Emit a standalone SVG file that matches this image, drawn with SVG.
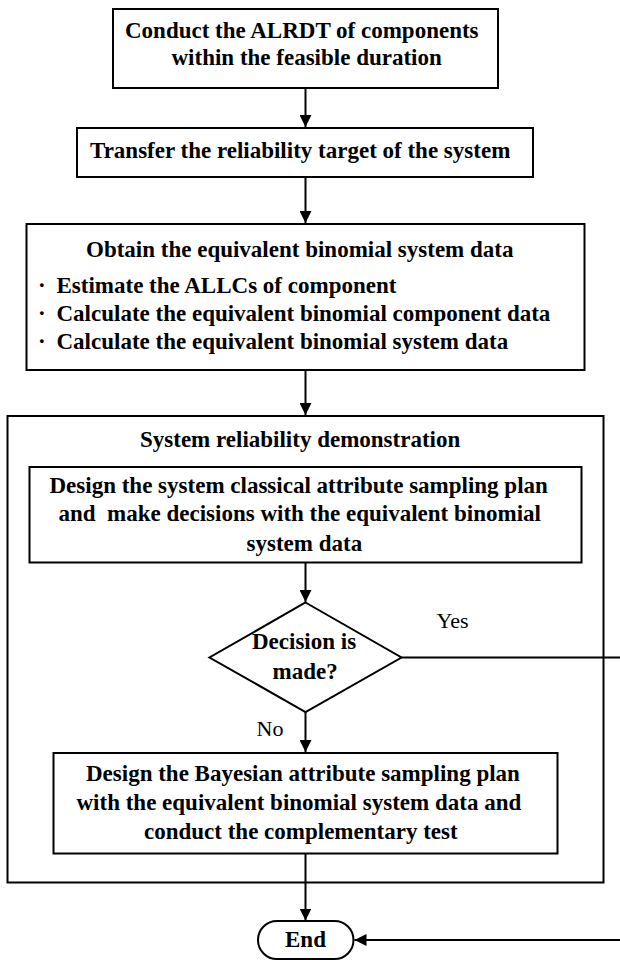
<svg xmlns="http://www.w3.org/2000/svg" width="620" height="960" viewBox="0 0 620 960">
  <defs>
    <style>
      .box { fill: #fff; stroke: #000; stroke-width: 2; }
      .frame { fill: none; stroke: #000; stroke-width: 2; }
      .t { font-family: "Liberation Serif", "Times New Roman", serif; font-size: 23px; font-weight: bold; fill: #000; }
      .lbl { font-family: "Liberation Serif", "Times New Roman", serif; font-size: 22px; fill: #000; }
      .edge { fill: none; stroke: #000; stroke-width: 2; }
    </style>
    <marker id="arrow" markerUnits="userSpaceOnUse" markerWidth="12" markerHeight="12" viewBox="0 0 12 12" refX="12" refY="6" orient="auto">
      <path d="M0,0 L12,6 L0,12 Z" fill="#000"/>
    </marker>
  </defs>

  <rect width="620" height="960" fill="#fff"/>

  <!-- outer container -->
  <g id="demo">
    <rect class="frame" x="7.5" y="416" width="596" height="466.5"/>
    <text class="t" x="140" y="447">System reliability demonstration</text>
  </g>

  <g id="alrdt">
    <rect class="box" x="113" y="9" width="385" height="79"/>
    <text class="t" x="125" y="37.5">Conduct the ALRDT of components</text>
    <text class="t" x="171.5" y="65">within the feasible duration</text>
  </g>

  <g id="transfer">
    <rect class="box" x="77" y="128" width="456" height="49"/>
    <text class="t" x="90" y="158">Transfer the reliability target of the system</text>
  </g>

  <g id="obtain">
    <rect class="box" x="26.5" y="224" width="558" height="146"/>
    <text class="t" x="86" y="257">Obtain the equivalent binomial system data</text>
    <text class="t" y="292.5"><tspan x="38">·</tspan><tspan x="56.5">Estimate the ALLCs of component</tspan></text>
    <text class="t" y="320.5"><tspan x="38">·</tspan><tspan x="56.5">Calculate the equivalent binomial component data</tspan></text>
    <text class="t" y="348.5"><tspan x="38">·</tspan><tspan x="56.5">Calculate the equivalent binomial system data</tspan></text>
  </g>

  <g id="classical">
    <rect class="box" x="29.5" y="467" width="552" height="95.5"/>
    <text class="t" x="49.5" y="492.5">Design the system classical attribute sampling plan</text>
    <text class="t" x="58.5" y="520.5" xml:space="preserve">and  make decisions with the equivalent binomial</text>
    <text class="t" x="246.5" y="550.5">system data</text>
  </g>

  <g id="decision">
    <polygon class="box" points="305.5,602.5 401.5,657.5 305.5,712 209.5,657.5"/>
    <text class="t" x="252" y="649">Decision is</text>
    <text class="t" x="272.5" y="678.5">made?</text>
  </g>

  <g id="bayesian">
    <rect class="box" x="53.5" y="753" width="504" height="100.5"/>
    <text class="t" x="86" y="781">Design the Bayesian attribute sampling plan</text>
    <text class="t" x="76.5" y="809.5">with the equivalent binomial system data and</text>
    <text class="t" x="144" y="838.5">conduct the complementary test</text>
  </g>

  <g id="end">
    <rect class="box" x="258" y="921" width="95.5" height="38" rx="19" ry="19"/>
    <text class="t" x="305.5" y="947" text-anchor="middle">End</text>
  </g>

  <g id="connectors">
    <line class="edge" x1="305.5" y1="88" x2="305.5" y2="127" marker-end="url(#arrow)"/>
    <line class="edge" x1="305.5" y1="177" x2="305.5" y2="223" marker-end="url(#arrow)"/>
    <line class="edge" x1="305.5" y1="370" x2="305.5" y2="415" marker-end="url(#arrow)"/>
    <line class="edge" x1="305.5" y1="562.5" x2="305.5" y2="602" marker-end="url(#arrow)"/>
    <line class="edge" x1="305.5" y1="712" x2="305.5" y2="752" marker-end="url(#arrow)"/>
    <line class="edge" x1="305.5" y1="853.5" x2="305.5" y2="920.5" marker-end="url(#arrow)"/>
    <path class="edge" d="M401.5,657.5 H630 V940 H354.5" marker-end="url(#arrow)"/>
    <text class="lbl" x="436.5" y="627.5">Yes</text>
    <text class="lbl" x="256.5" y="735.5">No</text>
  </g>
</svg>
